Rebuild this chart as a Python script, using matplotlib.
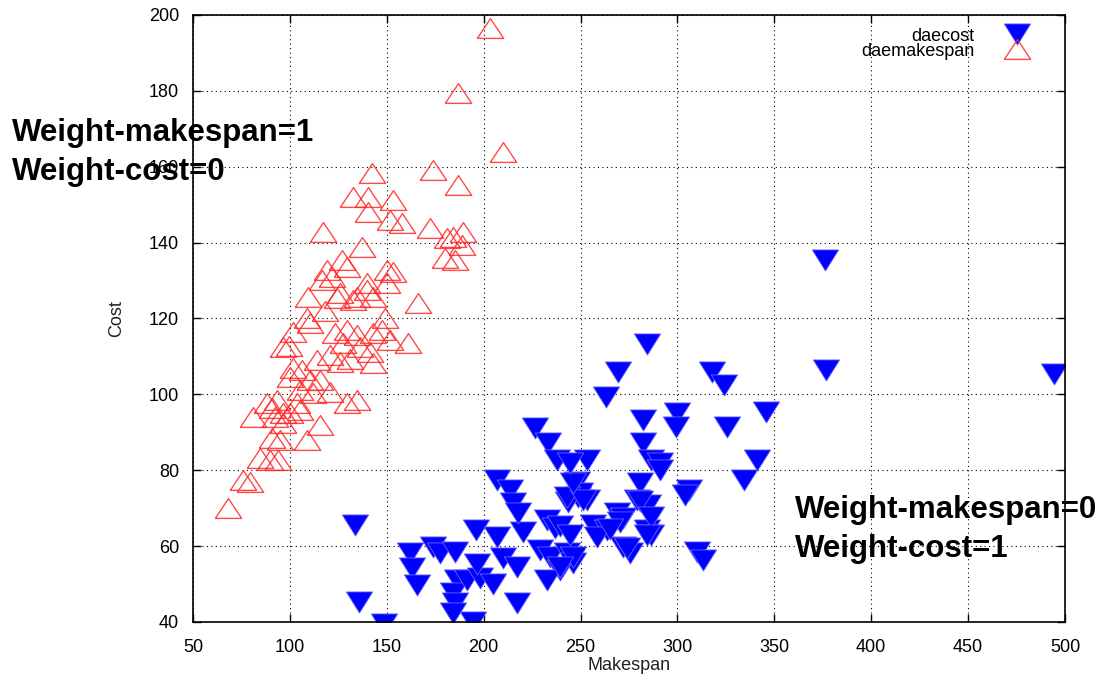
import matplotlib.pyplot as plt

# daecost runs (makespan, cost)
cost_makespan = [
    133.6, 135.6, 148.6, 162.0, 163.0, 165.6, 173.9, 177.5, 185.3, 186.3,
    184.2, 185.3, 184.2, 191.5, 198.2, 194.6, 196.1, 206.9, 220.4, 204.9,
    196.6, 210.0, 217.3, 217.3, 206.9, 213.7, 215.2, 217.8, 232.8, 236.9,
    229.2, 234.3, 243.1, 246.2, 239.5, 232.8, 226.6, 233.3, 238.0, 253.5,
    248.3, 248.8, 243.7, 253.5, 249.9, 256.6, 263.8, 269.0, 272.1, 272.1,
    275.7, 284.5, 286.1, 280.9, 279.3, 285.0, 282.4, 282.4, 286.1, 291.2,
    263.3, 269.5, 284.5, 300.0, 299.5, 305.7, 304.1, 310.3, 313.4, 317.6,
    323.8, 325.8, 345.5, 341.3, 334.1, 375.9, 376.5, 494.3, 291.2, 280.9,
    286.1, 270.5, 258.6, 265.4, 274.2, 284.5, 243.1, 251.4, 246.2, 244.6,
    239.5, 244.6, 246.2, 239.5,
]
cost_cost = [
    65.5, 45.2, 39.6, 58.3, 54.2, 49.7, 59.7, 58.2, 58.4, 51.0,
    47.6, 45.0, 42.4, 51.0, 51.7, 39.9, 64.2, 62.4, 63.7, 50.0,
    55.3, 56.9, 54.4, 44.9, 77.4, 74.9, 71.4, 68.7, 66.8, 64.7,
    58.9, 57.0, 58.1, 55.5, 53.7, 51.1, 91.1, 87.2, 82.6, 82.6,
    76.8, 72.9, 71.6, 72.1, 73.9, 65.5, 64.2, 68.7, 67.4, 59.7,
    58.1, 64.2, 62.9, 76.6, 72.1, 70.8, 93.2, 87.1, 82.7, 81.9,
    99.4, 105.9, 113.3, 95.1, 91.4, 74.7, 73.4, 58.4, 56.3, 105.9,
    102.5, 91.4, 95.4, 82.7, 77.4, 135.4, 106.4, 105.4, 80.0, 71.9,
    67.6, 66.3, 62.4, 64.5, 59.5, 62.9, 72.9, 72.1, 76.6, 81.9,
    65.4, 62.9, 57.0, 54.4,
]

# daemakespan runs (makespan, cost)
span_makespan = [
    203.4, 186.8, 210.1, 142.4, 173.9, 186.8, 132.6, 140.3, 153.2, 140.3,
    151.6, 157.9, 172.3, 117.0, 181.1, 184.2, 189.4, 180.1, 185.3, 188.9,
    137.2, 126.9, 129.5, 119.1, 116.5, 121.7, 139.8, 150.1, 153.2, 150.1,
    142.9, 134.6, 166.1, 125.8, 109.3, 124.3, 132.6, 108.8, 110.3, 101.6,
    96.4, 123.3, 129.4, 134.6, 142.9, 147.5, 149.1, 151.6, 161.0, 127.4,
    136.2, 141.3, 120.7, 114.0, 125.8, 131.0, 142.9, 101.6, 100.0, 110.3,
    115.5, 105.2, 111.9, 120.7, 129.4, 134.6, 103.6, 88.1, 93.3, 90.7,
    80.9, 96.4, 92.2, 96.4, 90.7, 94.8, 108.8, 84.5, 89.7, 93.8,
    75.7, 79.3, 67.9, 100.0, 105.2, 139.8, 115.5, 118.0, 99.5, 106.0,
]
span_cost = [
    196.6, 179.3, 163.9, 158.4, 159.2, 155.2, 152.0, 152.0, 151.3, 148.1,
    146.0, 145.2, 143.9, 142.8, 141.2, 141.5, 142.8, 135.9, 135.4, 139.4,
    138.9, 135.4, 133.6, 132.8, 130.2, 131.0, 129.3, 132.8, 132.3, 129.3,
    125.7, 125.7, 124.1, 126.8, 125.7, 125.4, 124.8, 120.1, 118.8, 116.5,
    112.5, 116.2, 117.0, 115.7, 116.2, 117.0, 120.1, 114.3, 113.5, 113.5,
    112.5, 111.2, 110.4, 109.0, 108.5, 109.4, 108.2, 107.0, 104.6, 103.8,
    103.8, 101.2, 100.4, 100.6, 97.7, 98.5, 97.7, 97.7, 98.5, 96.4,
    94.0, 95.1, 94.0, 92.4, 88.5, 87.9, 87.9, 83.2, 82.7, 82.7,
    77.4, 76.9, 70.0, 95.1, 95.9, 127.6, 91.9, 122.0, 112.8, 106.5,
]

plt.rcParams['font.family'] = ['Liberation Sans', 'DejaVu Sans']

# flattened triangles, wider than tall
tri_down = [(-1, 0.8), (1, 0.8), (0, -0.8), (-1, 0.8)]
tri_up = [(-1, -0.75), (1, -0.75), (0, 0.75), (-1, -0.75)]

fig = plt.figure(figsize=(11.05, 6.8), dpi=100)
ax = fig.add_axes([0.1747, 0.0853, 0.7891, 0.8927])

ax.plot(cost_makespan, cost_cost, linestyle='none', marker=tri_down,
        markersize=19, markerfacecolor='#0000ff', markeredgecolor='#6666ff',
        markeredgewidth=0.6, label='daecost')
ax.plot(span_makespan, span_cost, linestyle='none', marker=tri_up,
        markersize=19, markerfacecolor='none', markeredgecolor='#ff2a2a',
        markeredgewidth=1.0, alpha=0.85, label='daemakespan')

ax.set_xlim(50, 500)
ax.set_ylim(40, 200)
ax.set_xticks(range(50, 501, 50))
ax.set_yticks(range(40, 201, 20))
ax.tick_params(direction='in', top=True, right=True, length=6, width=1,
               labelsize=13, colors='black')
ax.tick_params(axis='x', pad=12)
ax.tick_params(axis='y', pad=10)
ax.grid(True, color='black', linestyle=(0, (1, 3)), linewidth=0.8)
for s in ax.spines.values():
    s.set_linewidth(1.2)

ax.set_xlabel('Makespan', fontsize=13, color='#222222', labelpad=1)
ax.set_ylabel('Cost', fontsize=13, color='#222222', labelpad=17)

ax.legend(loc='upper right', frameon=False, markerfirst=False, fontsize=13,
          labelspacing=-0.1, handlelength=1.5, handletextpad=1.6,
          borderaxespad=0.3, bbox_to_anchor=(0.975, 1.0))

fig.text(0.011, 0.805, 'Weight-makespan=1', fontsize=22.5, fontweight='bold',
         va='center')
fig.text(0.011, 0.747, 'Weight-cost=0', fontsize=22.5, fontweight='bold',
         va='center')
fig.text(0.719, 0.25, 'Weight-makespan=0', fontsize=22.5, fontweight='bold',
         va='center')
fig.text(0.719, 0.193, 'Weight-cost=1', fontsize=22.5, fontweight='bold',
         va='center')

fig.savefig('out.png', dpi=100)
